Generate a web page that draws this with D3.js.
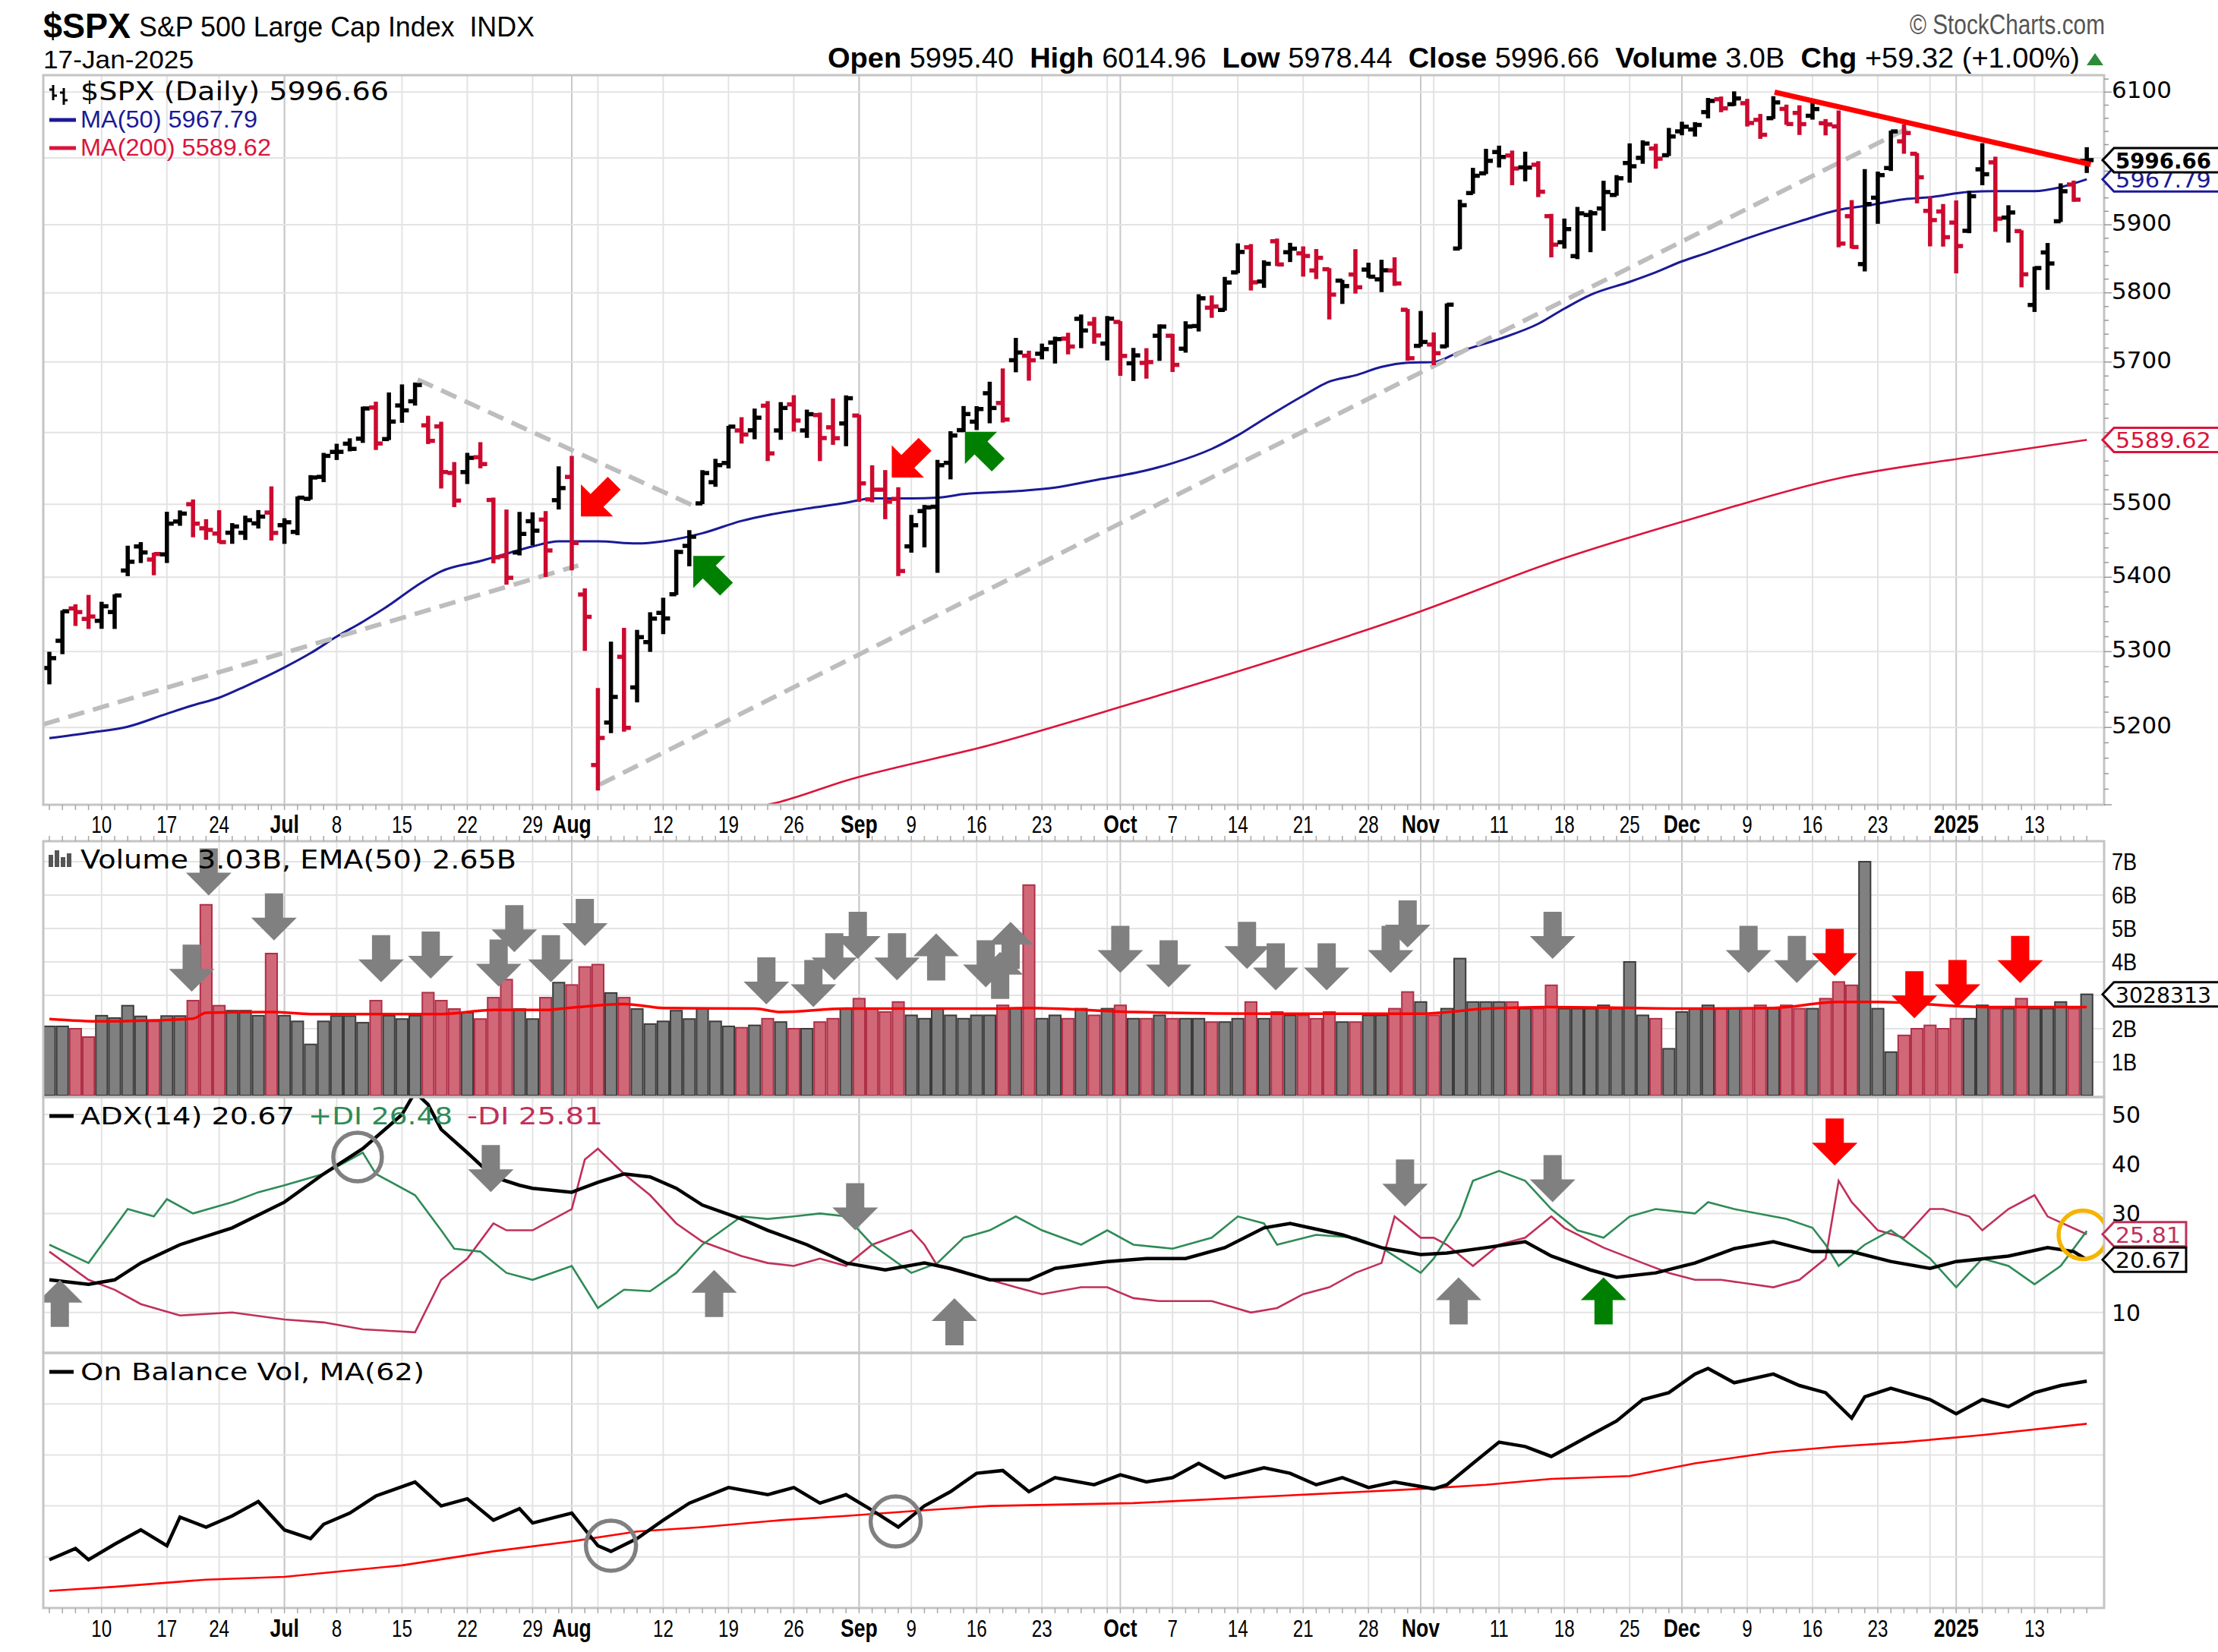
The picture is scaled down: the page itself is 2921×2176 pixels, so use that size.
<!DOCTYPE html>
<html>
<head>
<meta charset="utf-8">
<script src="https://cdn.jsdelivr.net/npm/d3@7/dist/d3.min.js"></script>
<style>
html,body{margin:0;padding:0;background:#fff;}
svg{display:block;}
</style>
</head>
<body>
<script>
// ================= DATA =================
const dates = [
"2024-06-04","2024-06-05","2024-06-06","2024-06-07","2024-06-10","2024-06-11","2024-06-12","2024-06-13","2024-06-14","2024-06-17","2024-06-18","2024-06-20","2024-06-21","2024-06-24","2024-06-25","2024-06-26","2024-06-27","2024-06-28",
"2024-07-01","2024-07-02","2024-07-03","2024-07-05","2024-07-08","2024-07-09","2024-07-10","2024-07-11","2024-07-12","2024-07-15","2024-07-16","2024-07-17","2024-07-18","2024-07-19","2024-07-22","2024-07-23","2024-07-24","2024-07-25","2024-07-26","2024-07-29","2024-07-30","2024-07-31",
"2024-08-01","2024-08-02","2024-08-05","2024-08-06","2024-08-07","2024-08-08","2024-08-09","2024-08-12","2024-08-13","2024-08-14","2024-08-15","2024-08-16","2024-08-19","2024-08-20","2024-08-21","2024-08-22","2024-08-23","2024-08-26","2024-08-27","2024-08-28","2024-08-29","2024-08-30",
"2024-09-03","2024-09-04","2024-09-05","2024-09-06","2024-09-09","2024-09-10","2024-09-11","2024-09-12","2024-09-13","2024-09-16","2024-09-17","2024-09-18","2024-09-19","2024-09-20","2024-09-23","2024-09-24","2024-09-25","2024-09-26","2024-09-27","2024-09-30",
"2024-10-01","2024-10-02","2024-10-03","2024-10-04","2024-10-07","2024-10-08","2024-10-09","2024-10-10","2024-10-11","2024-10-14","2024-10-15","2024-10-16","2024-10-17","2024-10-18","2024-10-21","2024-10-22","2024-10-23","2024-10-24","2024-10-25","2024-10-28","2024-10-29","2024-10-30","2024-10-31",
"2024-11-01","2024-11-04","2024-11-05","2024-11-06","2024-11-07","2024-11-08","2024-11-11","2024-11-12","2024-11-13","2024-11-14","2024-11-15","2024-11-18","2024-11-19","2024-11-20","2024-11-21","2024-11-22","2024-11-25","2024-11-26","2024-11-27","2024-11-29",
"2024-12-02","2024-12-03","2024-12-04","2024-12-05","2024-12-06","2024-12-09","2024-12-10","2024-12-11","2024-12-12","2024-12-13","2024-12-16","2024-12-17","2024-12-18","2024-12-19","2024-12-20","2024-12-23","2024-12-24","2024-12-26","2024-12-27","2024-12-30","2024-12-31",
"2025-01-02","2025-01-03","2025-01-06","2025-01-07","2025-01-08","2025-01-10","2025-01-13","2025-01-14","2025-01-15","2025-01-16","2025-01-17"];

const open = [
5278.24,5314.48,5357.80,5343.81,5341.22,5353.00,5409.13,5441.93,5424.08,5431.11,5476.15,5499.99,5466.77,5459.58,5460.73,5460.71,5473.59,5488.48,
5471.08,5461.84,5507.44,5537.91,5572.75,5584.24,5591.26,5635.21,5590.76,5638.16,5644.09,5610.07,5608.56,5543.37,5544.54,5565.30,5505.84,5428.70,5433.67,5476.55,5478.73,5505.59,
5537.84,5376.63,5151.14,5206.42,5293.13,5252.57,5312.70,5351.88,5376.98,5442.72,5501.13,5530.50,5557.23,5602.88,5603.09,5637.77,5602.89,5639.66,5602.89,5624.51,5607.30,5612.74,
5623.89,5506.68,5520.08,5507.33,5442.07,5490.51,5496.42,5557.48,5603.34,5615.21,5655.51,5641.68,5702.63,5709.02,5711.90,5727.96,5733.65,5762.22,5755.36,5726.52,
5757.73,5698.19,5698.80,5737.80,5737.80,5719.14,5751.80,5778.36,5775.09,5829.81,5866.74,5816.58,5875.62,5859.43,5857.82,5832.70,5834.50,5817.80,5826.75,5833.93,5819.68,5832.65,5775.34,
5723.22,5725.15,5722.43,5864.89,5947.21,5976.76,6008.86,6003.60,5985.75,5989.68,5912.79,5874.17,5853.73,5914.57,5924.24,5944.36,5992.28,6000.03,6014.11,6003.98,
6040.11,6042.97,6069.39,6089.03,6081.38,6083.01,6057.59,6060.15,6074.29,6068.17,6063.79,6052.55,6047.65,5912.71,5842.00,5940.25,5984.74,6024.97,6006.17,5920.67,5919.74,
5903.26,5891.07,5982.81,5993.26,5910.66,5890.66,5782.36,5859.16,5905.21,5960.01,5995.40];

const high = [
5298.80,5354.16,5362.35,5375.08,5365.79,5375.95,5441.93,5446.82,5432.39,5488.50,5490.38,5505.53,5478.31,5490.66,5472.88,5483.14,5490.81,5523.64,
5479.55,5509.69,5539.27,5570.33,5583.11,5590.75,5635.39,5642.45,5655.56,5666.94,5669.67,5622.49,5614.05,5557.50,5570.36,5585.34,5508.04,5491.59,5488.32,5487.74,5489.46,5551.51,
5566.16,5383.89,5250.89,5312.34,5330.64,5328.03,5351.69,5371.20,5436.50,5463.22,5546.23,5561.98,5608.30,5620.51,5632.68,5643.22,5641.82,5651.62,5631.18,5627.03,5646.95,5651.37,
5623.89,5552.99,5546.30,5522.47,5484.20,5497.91,5560.41,5600.71,5636.27,5636.05,5670.81,5689.75,5733.57,5715.14,5725.36,5735.32,5741.03,5767.37,5763.78,5765.14,
5757.73,5719.14,5718.78,5753.04,5739.34,5757.60,5796.80,5795.03,5822.13,5871.41,5870.36,5846.52,5878.46,5872.17,5866.92,5863.04,5834.85,5817.80,5862.82,5842.92,5847.19,5850.94,5775.34,
5772.52,5741.43,5783.44,5936.14,5983.84,6012.45,6017.31,6009.92,6008.19,5993.88,5915.09,5908.12,5925.39,5920.67,5964.46,5972.90,6020.75,6025.42,6020.16,6044.17,
6053.58,6052.96,6089.84,6092.04,6099.97,6088.51,6065.40,6092.59,6079.68,6078.58,6085.19,6057.68,6070.67,5935.52,5982.06,5978.25,6040.10,6049.75,6006.17,5940.79,5929.74,
5935.09,5949.34,6021.04,6000.68,5927.89,5890.66,5837.10,5871.92,5960.61,5964.69,6014.96];

const low = [
5257.63,5297.64,5335.36,5331.33,5331.52,5331.33,5402.51,5420.35,5403.75,5420.40,5471.32,5455.56,5452.03,5447.59,5446.56,5451.87,5467.54,5451.12,
5446.53,5458.43,5507.42,5531.63,5562.51,5574.57,5586.44,5576.53,5590.44,5614.75,5639.02,5584.81,5522.81,5497.04,5529.04,5550.90,5419.98,5390.95,5430.70,5444.44,5401.41,5493.75,
5410.42,5302.03,5119.26,5193.56,5195.54,5233.85,5300.70,5324.37,5376.98,5415.89,5501.13,5525.17,5550.74,5585.50,5591.57,5560.95,5590.75,5602.34,5593.48,5560.95,5583.71,5581.79,
5504.33,5503.66,5480.37,5402.62,5434.49,5441.72,5406.96,5535.50,5601.65,5604.53,5614.05,5615.08,5686.42,5674.49,5704.94,5698.99,5712.06,5721.01,5727.34,5703.53,
5681.29,5674.00,5677.37,5702.76,5686.85,5714.56,5745.02,5764.76,5775.09,5829.81,5804.48,5808.34,5840.25,5846.11,5824.78,5821.17,5762.41,5784.92,5799.98,5823.08,5802.12,5811.28,5702.86,
5723.22,5696.51,5722.10,5864.89,5947.21,5976.76,5986.69,5960.08,5965.91,5942.28,5853.01,5865.95,5850.43,5860.60,5892.16,5944.36,5963.91,5992.27,5984.87,6003.98,
6035.33,6033.39,6061.06,6070.36,6079.98,6048.63,6029.89,6060.15,6051.25,6035.77,6059.14,6035.19,5867.79,5866.07,5832.30,5902.57,5981.44,6007.37,5932.95,5869.16,5868.86,
5829.53,5888.66,5960.01,5890.68,5874.78,5809.11,5773.31,5805.50,5905.21,5935.30,5978.44];

const close = [
5291.34,5354.03,5352.96,5346.99,5360.79,5375.32,5421.03,5433.74,5431.60,5473.23,5487.03,5473.17,5464.62,5447.87,5469.30,5477.90,5482.87,5460.48,
5475.09,5509.01,5537.02,5567.19,5572.85,5576.98,5633.91,5584.54,5615.35,5631.22,5667.20,5588.27,5544.59,5505.00,5564.41,5555.74,5427.13,5399.22,5459.10,5463.54,5436.44,5522.30,
5446.68,5346.56,5186.33,5240.03,5199.50,5319.31,5344.16,5344.39,5434.43,5455.21,5543.22,5554.25,5608.25,5597.12,5620.85,5570.64,5634.61,5616.84,5625.80,5592.18,5591.96,5648.40,
5528.93,5520.07,5503.41,5408.42,5471.05,5495.52,5554.13,5595.76,5626.02,5633.09,5634.58,5618.26,5713.64,5702.55,5718.57,5732.93,5722.26,5745.37,5738.17,5762.48,
5708.75,5709.54,5699.94,5751.07,5695.94,5751.13,5792.04,5780.05,5815.03,5859.85,5815.26,5842.47,5841.47,5864.67,5853.98,5851.20,5797.42,5809.86,5808.12,5823.52,5832.92,5813.67,5705.45,
5728.80,5712.69,5782.76,5929.04,5973.10,5995.54,6001.35,5983.99,5985.38,5949.17,5870.62,5893.62,5916.98,5917.11,5948.71,5969.34,5987.37,6021.63,5998.74,6032.38,
6047.15,6049.88,6086.49,6075.11,6090.27,6052.85,6034.91,6084.19,6051.25,6051.09,6074.08,6050.61,5872.16,5867.08,5930.85,5974.07,6040.04,6037.59,5970.84,5906.94,5881.63,
5868.55,5942.47,5975.38,5909.03,5918.25,5827.04,5836.22,5842.91,5949.91,5937.34,5996.66];
const prevClose = 5283.40;

// volume, billions of shares
const volume = [
2.07,2.07,2.00,1.75,2.39,2.32,2.69,2.37,2.22,2.38,2.38,2.84,5.71,2.69,2.54,2.54,2.39,4.25,
2.39,2.22,1.53,2.22,2.38,2.38,2.18,2.84,2.39,2.29,2.39,3.08,2.84,2.59,2.48,2.29,2.93,3.47,2.59,2.29,2.93,3.38,
3.31,3.85,3.92,3.07,2.93,2.59,2.14,2.22,2.54,2.29,2.59,2.22,2.07,2.03,2.10,2.30,2.20,2.00,2.00,2.20,2.30,2.60,
2.90,2.60,2.50,2.80,2.40,2.30,2.60,2.40,2.30,2.40,2.40,2.70,2.60,6.30,2.30,2.40,2.30,2.60,2.40,2.60,
2.70,2.30,2.30,2.40,2.30,2.30,2.30,2.20,2.20,2.30,2.80,2.30,2.50,2.40,2.40,2.30,2.50,2.20,2.20,2.40,2.40,2.60,3.10,
2.80,2.40,2.60,4.10,2.80,2.80,2.80,2.80,2.60,2.60,3.30,2.60,2.60,2.60,2.70,2.60,4.00,2.40,2.30,1.40,
2.50,2.60,2.70,2.60,2.60,2.60,2.70,2.60,2.70,2.60,2.60,2.90,3.40,3.30,7.00,2.60,1.30,1.80,2.00,2.10,2.00,
2.30,2.30,2.70,2.60,2.60,2.90,2.60,2.60,2.80,2.60,3.03];

// sampled indicator readings: [trading-day number (0 = first date), value]
const volEma50 = [[0,2.29],[4,2.22],[8,2.25],[11,2.3],[12,2.48],[17,2.5],[20,2.44],[30,2.44],[34,2.56],[38,2.56],[40,2.63],[44,2.74],[47,2.62],[54,2.6],[56,2.5],[61,2.6],[72,2.6],[75,2.62],[83,2.5],[94,2.45],[105,2.45],[110,2.6],[115,2.65],[126,2.6],[132,2.62],[137,2.8],[140,2.8],[148,2.65],[156,2.65]];

const ma50 = [[0,5186],[3,5193],[6,5201],[9,5218],[11,5229],[13,5239],[15,5254],[18,5279],[20,5298],[22,5320],[24,5340],[26,5362],[28,5387],[30,5408],[33,5422],[35,5432],[37,5442],[39,5449],[42,5449],[45,5446],[47,5449],[50,5460],[53,5477],[55,5485],[58,5494],[61,5502],[63,5508],[66,5508],[68,5509],[70,5514],[74,5518],[77,5523],[80,5533],[84,5547],[86,5557],[89,5577],[91,5596],[93,5619],[96,5652],[98,5672],[100,5681],[102,5693],[104,5699],[106,5700],[108,5715],[111,5733],[114,5755],[116,5777],[118,5797],[121,5816],[123,5830],[125,5846],[127,5859],[130,5880],[134,5905],[137,5922],[139,5928],[142,5938],[144,5941],[147,5949],[149,5950],[152,5950],[154,5956],[156,5967.79]];

const ma200 = [[55,5100],[56,5104],[61,5131],[72,5177],[83,5232],[94,5290],[105,5354],[115,5420],[126,5481],[137,5536],[148,5568],[156,5589.62]];

const adx = [[0,16.6],[3,15.7],[5,16.6],[7,20],[10,23.7],[14,27.1],[18,32.3],[21,38],[24,43.1],[27,50],[28,54.5],[29,52],[30,47],[32,42.3],[34,37.4],[36,35.7],[37,35.1],[40,34.3],[42,36.3],[44,38],[46,37.4],[48,35.1],[50,31.7],[53,28.9],[55,26.6],[58,23.7],[61,20],[64,18.6],[67,20],[69,18.9],[72,16.6],[75,16.6],[77,18.9],[81,20.3],[84,20.9],[87,20.9],[90,23.1],[93,27.1],[95,28],[99,25.7],[102,23.1],[105,21.7],[107,22],[110,23.1],[113,24.3],[115,21.4],[118,18.6],[120,17.1],[123,18],[126,20],[129,22.9],[132,24.3],[135,22.3],[138,22.3],[141,20.3],[144,18.9],[146,20.3],[150,21.4],[153,23.1],[155,22.3],[156,20.67]];

const plusDI = [[0,23.7],[3,20],[6,30.9],[8,29.4],[9,32.9],[11,30],[14,32.3],[16,34.3],[18,35.7],[21,38],[24,42.3],[25,38],[28,33.7],[30,26.6],[31,22.9],[33,22.3],[35,18],[37,16.6],[40,19.4],[42,10.9],[44,14.6],[46,14.3],[48,18],[50,23.7],[53,29.4],[55,28.9],[57,29.4],[59,30],[61,29.4],[63,23.7],[66,18],[68,20],[70,25.1],[72,26.6],[74,29.4],[76,26.6],[79,23.7],[81,26.6],[83,23.7],[86,22.9],[89,25.1],[91,29.4],[93,28],[94,23.7],[97,25.7],[100,25.1],[102,23.1],[105,18],[106,20.9],[108,29.4],[109,36.6],[111,38.6],[113,36.6],[115,30.9],[117,26.6],[119,25.1],[121,29.4],[123,30.9],[126,30],[127,32.3],[129,30.9],[133,28.9],[135,27.1],[136,23.7],[137,19.4],[139,23.7],[141,26.6],[144,20.9],[146,15.1],[148,20.9],[150,19.4],[152,15.7],[154,19.4],[156,26.48]];

const minusDI = [[0,22.3],[3,16.6],[5,14.6],[7,11.7],[10,9.4],[14,10],[18,8.6],[21,8],[24,6.6],[28,6],[30,16.6],[32,20.9],[34,28],[35,26.6],[37,26.6],[40,30.9],[41,40.9],[42,43.1],[44,38],[46,33.7],[48,28],[50,24.3],[53,21.4],[55,20],[57,19.4],[59,20.9],[61,19.4],[63,23.7],[66,26.6],[67,23.7],[68,19.4],[70,18],[72,16.6],[74,15.1],[76,13.7],[79,15.1],[81,15.1],[83,12.9],[85,12.3],[87,12.3],[89,12.3],[92,10],[94,10.9],[96,13.7],[98,15.1],[100,18],[102,20],[103,29.4],[105,25.1],[106,25.1],[107,23.7],[109,19.4],[111,23.7],[113,25.1],[115,29.4],[116,27.1],[119,23.1],[122,20],[124,18],[126,16.6],[128,16.6],[132,15.1],[134,16.6],[136,20.9],[137,36.6],[138,32.3],[140,26.6],[142,25.1],[144,30.9],[145,30.9],[147,29.4],[148,26.6],[150,30.9],[152,33.7],[153,29.4],[156,25.81]];

// On Balance Volume (panel has no scale: values read as % of panel height)
const obv = [[0,18.9],[2,23.3],[3,18.9],[5,25],[7,30.6],[9,24.4],[10,35.6],[12,31.7],[14,36.1],[16,41.7],[18,30.6],[20,27.2],[21,32.8],[23,37.2],[25,43.9],[28,49.4],[30,40],[32,42.8],[34,34.4],[36,38.9],[37,33.3],[40,37.2],[42,24.4],[43,22.2],[45,27.2],[47,34.4],[49,41.1],[52,47.2],[55,44.4],[57,47.2],[59,41.1],[61,44.4],[63,38.3],[65,31.7],[67,40],[69,45.6],[71,52.8],[73,53.9],[75,45.6],[77,51.1],[80,48.3],[82,52.2],[84,49.4],[86,51.1],[88,56.7],[90,51.1],[93,55],[95,52.8],[97,48.3],[99,51.1],[101,47.2],[103,49.4],[106,46.7],[107,48.3],[109,56.7],[111,65],[113,63.3],[115,59.4],[118,67.8],[120,73.3],[122,81.7],[124,84.4],[126,91.7],[127,93.9],[129,88.3],[132,91.7],[134,87.2],[136,84.4],[138,74.4],[139,82.8],[141,86.1],[144,81.7],[146,76.1],[148,81.7],[150,78.9],[152,84.4],[154,87.2],[156,88.9]];
const obvMa62 = [[0,6.7],[5,8.3],[12,11.1],[18,12.2],[27,16.7],[34,22.2],[40,26.1],[45,30],[50,31.7],[56,34.4],[61,36.1],[67,38.3],[72,40],[83,41.1],[94,43.9],[105,46.7],[110,48.3],[115,50.6],[121,51.7],[126,56.7],[132,61.1],[137,63.3],[142,65],[148,67.8],[156,72.2]];

// axis tick labels [date, label, isMonth]
const tickLabels = [["2024-06-10","10",0],["2024-06-17","17",0],["2024-06-24","24",0],["2024-07-01","Jul",1],["2024-07-08","8",0],["2024-07-15","15",0],["2024-07-22","22",0],["2024-07-29","29",0],["2024-08-01","Aug",1],["2024-08-12","12",0],["2024-08-19","19",0],["2024-08-26","26",0],["2024-09-03","Sep",1],["2024-09-09","9",0],["2024-09-16","16",0],["2024-09-23","23",0],["2024-10-01","Oct",1],["2024-10-07","7",0],["2024-10-14","14",0],["2024-10-21","21",0],["2024-10-28","28",0],["2024-11-01","Nov",1],["2024-11-11","11",0],["2024-11-18","18",0],["2024-11-25","25",0],["2024-12-02","Dec",1],["2024-12-09","9",0],["2024-12-16","16",0],["2024-12-23","23",0],["2025-01-02","2025",1],["2025-01-13","13",0]];
const weekStarts = ["2024-06-10","2024-06-17","2024-06-24","2024-07-01","2024-07-08","2024-07-15","2024-07-22","2024-07-29","2024-08-05","2024-08-12","2024-08-19","2024-08-26","2024-09-03","2024-09-09","2024-09-16","2024-09-23","2024-09-30","2024-10-07","2024-10-14","2024-10-21","2024-10-28","2024-11-04","2024-11-11","2024-11-18","2024-11-25","2024-12-02","2024-12-09","2024-12-16","2024-12-23","2024-12-30","2025-01-06","2025-01-13"];
const monthStarts = ["2024-07-01","2024-08-01","2024-09-03","2024-10-01","2024-11-01","2024-12-02","2025-01-02"];
const priceTicks = [5200,5300,5400,5500,5600,5700,5800,5900,6000,6100];
const priceLabels = [5200,5300,5400,5500,5700,5800,5900,6100];
const volTicks = [1,2,3,4,5,6,7];
const volLabels = [1,2,4,5,6,7];
const adxTicks = [10,20,30,40,50];
const adxLabels = [10,30,40,50];
const obvGrid = [20,40,60,80];

// annotations (trading-day number, value)
const trendLines = [
  {a:[-0.45,5204], b:[40.5,5416], kind:"dash"},
  {a:[28.2,5675], b:[49.3,5498], kind:"dash"},
  {a:[42.15,5126], b:[142.4,6046], kind:"dash"},
  {a:[132.1,6100], b:[156.3,5990], kind:"red"}];
const priceArrows = [
  {i:40.7, v:5483, dir:"dl", c:"red"},
  {i:49.3, v:5429, dir:"ul", c:"green"},
  {i:64.5, v:5537, dir:"dl", c:"red"},
  {i:70.1, v:5601, dir:"ul", c:"green"}];
const volArrows = [
  {i:10.9,v:3.11,dir:"d",c:"gray"},{i:12.2,v:5.99,dir:"d",c:"gray"},{i:17.2,v:4.64,dir:"d",c:"gray"},
  {i:25.4,v:3.39,dir:"d",c:"gray"},{i:29.2,v:3.5,dir:"d",c:"gray"},{i:34.4,v:3.26,dir:"d",c:"gray"},
  {i:35.6,v:4.29,dir:"d",c:"gray"},{i:38.4,v:3.39,dir:"d",c:"gray"},{i:41.0,v:4.48,dir:"d",c:"gray"},
  {i:54.9,v:2.73,dir:"d",c:"gray"},{i:58.5,v:2.65,dir:"d",c:"gray"},{i:60.1,v:3.45,dir:"d",c:"gray"},
  {i:61.9,v:4.09,dir:"d",c:"gray"},{i:64.9,v:3.45,dir:"d",c:"gray"},{i:67.9,v:4.85,dir:"u",c:"gray"},
  {i:71.7,v:3.24,dir:"d",c:"gray"},{i:72.8,v:4.3,dir:"u",c:"gray"},{i:73.6,v:5.2,dir:"u",c:"gray"},
  {i:82.0,v:3.67,dir:"d",c:"gray"},{i:85.7,v:3.24,dir:"d",c:"gray"},{i:91.7,v:3.79,dir:"d",c:"gray"},
  {i:93.9,v:3.15,dir:"d",c:"gray"},{i:97.8,v:3.15,dir:"d",c:"gray"},{i:102.7,v:3.67,dir:"d",c:"gray"},
  {i:104.0,v:4.43,dir:"d",c:"gray"},{i:115.1,v:4.09,dir:"d",c:"gray"},{i:130.1,v:3.67,dir:"d",c:"gray"},
  {i:133.8,v:3.37,dir:"d",c:"gray"},{i:136.7,v:3.58,dir:"d",c:"red"},{i:142.8,v:2.31,dir:"d",c:"red"},
  {i:146.1,v:2.65,dir:"d",c:"red"},{i:150.9,v:3.37,dir:"d",c:"red"}];
const adxArrows = [
  {i:0.8,v:16.6,dir:"u",c:"gray"},{i:33.8,v:34.3,dir:"d",c:"gray"},{i:50.9,v:18.6,dir:"u",c:"gray"},
  {i:61.7,v:26.6,dir:"d",c:"gray"},{i:69.3,v:12.9,dir:"u",c:"gray"},{i:103.8,v:31.4,dir:"d",c:"gray"},
  {i:107.9,v:17.1,dir:"u",c:"gray"},{i:115.1,v:32.3,dir:"d",c:"gray"},{i:119.0,v:17.1,dir:"u",c:"green"},
  {i:136.7,v:39.7,dir:"d",c:"red"}];
const adxCircles = [{i:23.6,v:41.4,c:"gray"},{i:155.7,v:25.7,c:"orange"}];
const obvCircles = [{i:43.0,v:24.4,c:"gray"},{i:64.8,v:33.9,c:"gray"}];

// ================= DRAW =================
const W = 2921, H = 2176;
const PL = 57, PR = 2771;
const P = {price:{t:99,b:1060}, vol:{t:1108,b:1445}, adx:{t:1445,b:1782}, obv:{t:1782,b:2118}};
const WIDE = "'DejaVu Sans', Verdana, sans-serif";
const ARIAL = "'Liberation Sans', Arial, sans-serif";
const NARROW = "'Liberation Sans', Arial, sans-serif";
const COL = {up:"#000000", down:"#cc0a2f", ma50:"#1a1a96", ma200:"#dc143c", red:"#ff0000",
  green:"#008000", gray:"#808080", orange:"#f5b400", plusDI:"#2e8b57", minusDI:"#c0305a", grid:"#e3e3e3", gridM:"#c8c8c8", frame:"#c4c4c4"};
const n = dates.length;
const dayIndex = new Map(dates.map((d,i)=>[d,i]));

const x = d3.scaleLinear().domain([0, n-1]).range([65, 2748.2]);
const yP = d3.scaleLog().domain([5100, 6126]).range([P.price.b, P.price.t]);
const yV = d3.scaleLinear().domain([0, 7.614]).range([1443, 1108]);
const yA = d3.scaleLinear().domain([1.84, 53.53]).range([1782, 1445]);
const yO = d3.scaleLinear().domain([0, 100]).range([2118, 1782]);

const svg = d3.select("body").append("svg").attr("width", W).attr("height", H).attr("viewBox", `0 0 ${W} ${H}`);
svg.append("rect").attr("width", W).attr("height", H).attr("fill", "#fff");
const defs = svg.append("defs");
Object.entries(P).forEach(([k,p]) => {
  defs.append("clipPath").attr("id", "clip-"+k).append("rect")
    .attr("x", PL).attr("y", p.t).attr("width", PR-PL).attr("height", p.b-p.t);
});

// --- grid ---
const grid = svg.append("g");
const vGrid = weekStarts.map(d=>({d, m:false})).concat(monthStarts.map(d=>({d, m:true})));
Object.values(P).forEach(p => {
  vGrid.forEach(g => {
    const xi = x(dayIndex.get(g.d));
    grid.append("line").attr("x1", xi).attr("x2", xi).attr("y1", p.t).attr("y2", p.b)
      .attr("stroke", g.m ? COL.gridM : COL.grid).attr("stroke-width", 2);
  });
});
function hGrid(vals, scale){
  vals.forEach(v => grid.append("line").attr("x1", PL).attr("x2", PR).attr("y1", scale(v)).attr("y2", scale(v))
    .attr("stroke", COL.grid).attr("stroke-width", 2));
}
hGrid(priceTicks, yP); hGrid(volTicks, yV); hGrid(adxTicks, yA); hGrid(obvGrid, yO);

const isUp = i => close[i] >= (i ? close[i-1] : prevClose);

// --- price panel ---
const gp = svg.append("g").attr("clip-path", "url(#clip-price)");
const lineP = d3.line().x(d=>x(d[0])).y(d=>yP(d[1])).curve(d3.curveMonotoneX);
gp.append("path").attr("d", lineP(ma200)).attr("fill","none").attr("stroke", COL.ma200).attr("stroke-width", 2.6);
gp.append("path").attr("d", lineP(ma50)).attr("fill","none").attr("stroke", COL.ma50).attr("stroke-width", 3);
trendLines.filter(t=>t.kind==="dash").forEach(t => {
  gp.append("line").attr("x1", x(t.a[0])).attr("y1", yP(t.a[1])).attr("x2", x(t.b[0])).attr("y2", yP(t.b[1]))
    .attr("stroke", "#bdbdbd").attr("stroke-width", 6).attr("stroke-dasharray", "22,12");
});
const bars = gp.append("g");
dates.forEach((d,i) => {
  const c = isUp(i) ? COL.up : COL.down, cx = x(i);
  const g = bars.append("g").attr("stroke", c).attr("stroke-width", 5.5);
  g.append("line").attr("x1", cx).attr("x2", cx).attr("y1", yP(high[i])-1).attr("y2", yP(low[i])+1);
  g.append("line").attr("x1", cx-9).attr("x2", cx).attr("y1", yP(open[i])).attr("y2", yP(open[i]));
  g.append("line").attr("x1", cx).attr("x2", cx+9).attr("y1", yP(close[i])).attr("y2", yP(close[i]));
});
trendLines.filter(t=>t.kind==="red").forEach(t => {
  gp.append("line").attr("x1", x(t.a[0])).attr("y1", yP(t.a[1])).attr("x2", x(t.b[0])).attr("y2", yP(t.b[1]))
    .attr("stroke", COL.red).attr("stroke-width", 7);
});

const ANG = {d:90, u:-90, dl:135, ul:-135};
function arrow(g, px, py, dir, fill){
  const len=62, hd=30, hw=60, sw=24;
  const pts=[[0,0],[-hd,-hw/2],[-hd,-sw/2],[-len,-sw/2],[-len,sw/2],[-hd,sw/2],[-hd,hw/2]];
  g.append("polygon").attr("points", pts.map(p=>p.join(",")).join(" "))
    .attr("transform", `translate(${px},${py}) rotate(${ANG[dir]})`).attr("fill", fill);
}
priceArrows.forEach(a => arrow(gp, x(a.i), yP(a.v), a.dir, COL[a.c]));

// --- volume panel ---
const gv = svg.append("g").attr("clip-path", "url(#clip-vol)");
volume.forEach((v,i) => {
  const up = isUp(i);
  gv.append("rect").attr("x", x(i)-7.6).attr("width", 15.2).attr("y", yV(v)).attr("height", yV(0)-yV(v))
    .attr("fill", up ? "#808080" : "#d06878").attr("stroke", up ? "#3c3c3c" : "#b03048").attr("stroke-width", 2);
});
const lineV = d3.line().x(d=>x(d[0])).y(d=>yV(d[1])).curve(d3.curveMonotoneX);
gv.append("path").attr("d", lineV(volEma50)).attr("fill","none").attr("stroke", COL.red).attr("stroke-width", 3.5);
volArrows.forEach(a => arrow(gv, x(a.i), yV(a.v), a.dir, COL[a.c]));

// --- ADX panel ---
const ga = svg.append("g").attr("clip-path", "url(#clip-adx)");
const lineA = d3.line().x(d=>x(d[0])).y(d=>yA(d[1]));
ga.append("path").attr("d", lineA(minusDI)).attr("fill","none").attr("stroke", COL.minusDI).attr("stroke-width", 2.6);
ga.append("path").attr("d", lineA(plusDI)).attr("fill","none").attr("stroke", COL.plusDI).attr("stroke-width", 2.6);
ga.append("path").attr("d", lineA(adx)).attr("fill","none").attr("stroke", "#000").attr("stroke-width", 4.5);
adxArrows.forEach(a => arrow(ga, x(a.i), yA(a.v), a.dir, COL[a.c]));
adxCircles.forEach(c => ga.append("circle").attr("cx", x(c.i)).attr("cy", yA(c.v)).attr("r", 32)
  .attr("fill","none").attr("stroke", COL[c.c]).attr("stroke-width", 5.5));

// --- OBV panel ---
const go = svg.append("g").attr("clip-path", "url(#clip-obv)");
const lineO = d3.line().x(d=>x(d[0])).y(d=>yO(d[1]));
go.append("path").attr("d", lineO(obvMa62)).attr("fill","none").attr("stroke", COL.red).attr("stroke-width", 2.6);
go.append("path").attr("d", lineO(obv)).attr("fill","none").attr("stroke", "#000").attr("stroke-width", 4.5);
obvCircles.forEach(c => go.append("circle").attr("cx", x(c.i)).attr("cy", yO(c.v)).attr("r", 33)
  .attr("fill","none").attr("stroke", COL[c.c]).attr("stroke-width", 5.5));

// --- frames ---
Object.values(P).forEach(p => svg.append("rect").attr("x", PL).attr("y", p.t).attr("width", PR-PL).attr("height", p.b-p.t)
  .attr("fill","none").attr("stroke", COL.frame).attr("stroke-width", 3));

// --- day ticks on date strips ---
const ticks = svg.append("g").attr("stroke", "#a8a8a8").attr("stroke-width", 1.5);
dates.forEach((d,i) => {
  const xi = x(i);
  ticks.append("line").attr("x1", xi).attr("x2", xi).attr("y1", P.price.b).attr("y2", P.price.b+7);
  ticks.append("line").attr("x1", xi).attr("x2", xi).attr("y1", P.vol.t-7).attr("y2", P.vol.t);
  ticks.append("line").attr("x1", xi).attr("x2", xi).attr("y1", P.obv.b).attr("y2", P.obv.b+7);
});

// --- date labels (condensed) ---
[1097, 2156].forEach(yb => {
  tickLabels.forEach(([d,t,m]) => {
    svg.append("g").attr("transform", `translate(${x(dayIndex.get(d))},${yb}) scale(0.78,1)`)
      .append("text").attr("x", 0).attr("y", 0).attr("text-anchor","middle")
      .attr("font-family", NARROW).attr("font-size", m ? 34 : 31).attr("font-weight", m ? "bold" : "normal")
      .attr("fill","#000").text(t);
  });
});

// --- right axes ---
const ax = svg.append("g");
d3.range(5100, 6121, 20).forEach(v => {
  ax.append("line").attr("x1", PR).attr("x2", PR + (v%100===0 ? 10 : 6)).attr("y1", yP(v)).attr("y2", yP(v))
    .attr("stroke", "#999").attr("stroke-width", 1.5);
});
priceLabels.forEach(v => ax.append("text").attr("x", 2781).attr("y", yP(v)+8).attr("font-family", WIDE)
  .attr("font-size", 31).attr("fill","#000").text(v));
volLabels.forEach(v => ax.append("g").attr("transform", `translate(2781,${yV(v)+11}) scale(0.85,1)`)
  .append("text").attr("font-family", NARROW).attr("font-size", 32).attr("fill","#000").text(v+"B"));
adxLabels.forEach(v => ax.append("text").attr("x", 2781).attr("y", yA(v)+11).attr("font-family", WIDE)
  .attr("font-size", 30).attr("fill","#000").text(v));

// --- value tags ---
function tag(yc, label, color, w, fs, bold, tl){
  const h = 32, x0 = 2769;
  const g = svg.append("g");
  g.append("polygon").attr("points", `${x0},${yc} ${x0+15},${yc-h/2} ${x0+w},${yc-h/2} ${x0+w},${yc+h/2} ${x0+15},${yc+h/2}`)
    .attr("fill","#fff").attr("stroke", color).attr("stroke-width", 3);
  g.append("text").attr("x", x0+17).attr("y", yc+11).attr("font-family", WIDE).attr("font-size", fs)
    .attr("font-weight", bold ? "bold" : "normal").attr("fill", color)
    .attr("textLength", tl).attr("lengthAdjust","spacingAndGlyphs").text(label);
}
tag(yP(ma50[ma50.length-1][1]), d3.format(".2f")(ma50[ma50.length-1][1]), COL.ma50, 170, 28, false, 126);
tag(yP(close[n-1]), d3.format(".2f")(close[n-1]), "#000", 170, 29, true, 126);
tag(yP(ma200[ma200.length-1][1]), d3.format(".2f")(ma200[ma200.length-1][1]), COL.ma200, 170, 28, false, 126);
tag(yV(volume[n-1]), "3028313", "#000", 170, 28, false, 126);
tag(yA(minusDI[minusDI.length-1][1]), minusDI[minusDI.length-1][1].toFixed(2), COL.minusDI, 110, 28, false, 86);
tag(yA(adx[adx.length-1][1]), adx[adx.length-1][1].toFixed(2), "#000", 110, 28, false, 86);

// --- header ---
svg.append("text").attr("x", 57).attr("y", 50).attr("font-family", NARROW).attr("font-weight","bold")
  .attr("font-size", 46).attr("textLength", 115).attr("lengthAdjust","spacingAndGlyphs").text("$SPX");
svg.append("text").attr("x", 183).attr("y", 48).attr("font-family", NARROW).attr("font-size", 37)
  .attr("textLength", 521).attr("lengthAdjust","spacingAndGlyphs").style("white-space","pre").text("S&P 500 Large Cap Index  INDX");
svg.append("text").attr("x", 57).attr("y", 90).attr("font-family", NARROW).attr("font-size", 33)
  .attr("textLength", 198).attr("lengthAdjust","spacingAndGlyphs").text("17-Jan-2025");
svg.append("text").attr("x", 2515).attr("y", 45).attr("font-family", NARROW).attr("font-size", 36).attr("fill","#555")
  .attr("textLength", 257).attr("lengthAdjust","spacingAndGlyphs").text("\u00a9 StockCharts.com");
const chg = close[n-1]-close[n-2];
const hdrParts = [["Open",1],[" "+open[n-1].toFixed(2)+"  ",0],["High",1],[" "+high[n-1].toFixed(2)+"  ",0],
  ["Low",1],[" "+low[n-1].toFixed(2)+"  ",0],["Close",1],[" "+close[n-1].toFixed(2)+"  ",0],
  ["Volume",1],[" "+volume[n-1].toFixed(1)+"B  ",0],["Chg",1],[" +"+chg.toFixed(2)+" (+"+(chg/close[n-2]*100).toFixed(2)+"%)",0]];
const hdr = svg.append("text").attr("x", 1090).attr("y", 89).attr("font-family", NARROW).attr("font-size", 36)
  .attr("textLength", 1649).attr("lengthAdjust","spacingAndGlyphs").style("white-space","pre");
hdrParts.forEach(([s,b]) => hdr.append("tspan").attr("font-weight", b ? "bold" : "normal").text(s));
svg.append("polygon").attr("points", "2748,86 2770,86 2759,70").attr("fill", "#2e8b3a");

// --- legends ---
const lg = svg.append("g");
[[70,112,132,118,126],[84,116,138,122,132]].forEach(([xx,t,b,o,c]) => {
  lg.append("line").attr("x1",xx).attr("x2",xx).attr("y1",t).attr("y2",b).attr("stroke","#000").attr("stroke-width",3);
  lg.append("line").attr("x1",xx-5).attr("x2",xx).attr("y1",o).attr("y2",o).attr("stroke","#000").attr("stroke-width",3);
  lg.append("line").attr("x1",xx).attr("x2",xx+5).attr("y1",c).attr("y2",c).attr("stroke","#000").attr("stroke-width",3);
});
lg.append("text").attr("x",106).attr("y",132).attr("font-family",WIDE).attr("font-size",33)
  .attr("textLength",406).attr("lengthAdjust","spacingAndGlyphs").text("$SPX (Daily) "+close[n-1].toFixed(2));
lg.append("line").attr("x1",65).attr("x2",100).attr("y1",158).attr("y2",158).attr("stroke",COL.ma50).attr("stroke-width",5);
lg.append("text").attr("x",106).attr("y",168).attr("font-family",ARIAL).attr("font-size",31).attr("fill",COL.ma50)
  .attr("textLength",233).attr("lengthAdjust","spacingAndGlyphs").text("MA(50) "+ma50[ma50.length-1][1].toFixed(2));
lg.append("line").attr("x1",65).attr("x2",100).attr("y1",195).attr("y2",195).attr("stroke",COL.ma200).attr("stroke-width",5);
lg.append("text").attr("x",106).attr("y",205).attr("font-family",ARIAL).attr("font-size",31).attr("fill",COL.ma200)
  .attr("textLength",251).attr("lengthAdjust","spacingAndGlyphs").text("MA(200) "+ma200[ma200.length-1][1].toFixed(2));
[[67,1126],[75,1120],[83,1129],[91,1124]].forEach(([xx,t]) => lg.append("rect").attr("x",xx-3).attr("y",t).attr("width",6).attr("height",1142-t).attr("fill","#555"));
lg.append("text").attr("x",106).attr("y",1144).attr("font-family",WIDE).attr("font-size",33)
  .attr("textLength",574).attr("lengthAdjust","spacingAndGlyphs").text("Volume 3.03B, EMA(50) 2.65B");
lg.append("line").attr("x1",65).attr("x2",97).attr("y1",1470).attr("y2",1470).attr("stroke","#000").attr("stroke-width",5);
lg.append("text").attr("x",106).attr("y",1481).attr("font-family",WIDE).attr("font-size",32)
  .attr("textLength",282).attr("lengthAdjust","spacingAndGlyphs").text("ADX(14) "+adx[adx.length-1][1].toFixed(2));
lg.append("text").attr("x",406).attr("y",1481).attr("font-family",WIDE).attr("font-size",32).attr("fill",COL.plusDI)
  .attr("textLength",190).attr("lengthAdjust","spacingAndGlyphs").text("+DI "+plusDI[plusDI.length-1][1].toFixed(2));
lg.append("text").attr("x",615).attr("y",1481).attr("font-family",WIDE).attr("font-size",32).attr("fill",COL.minusDI)
  .attr("textLength",179).attr("lengthAdjust","spacingAndGlyphs").text("-DI "+minusDI[minusDI.length-1][1].toFixed(2));
lg.append("line").attr("x1",65).attr("x2",97).attr("y1",1807).attr("y2",1807).attr("stroke","#000").attr("stroke-width",5);
lg.append("text").attr("x",106).attr("y",1818).attr("font-family",WIDE).attr("font-size",32)
  .attr("textLength",453).attr("lengthAdjust","spacingAndGlyphs").text("On Balance Vol, MA(62)");
</script>
</body>
</html>
